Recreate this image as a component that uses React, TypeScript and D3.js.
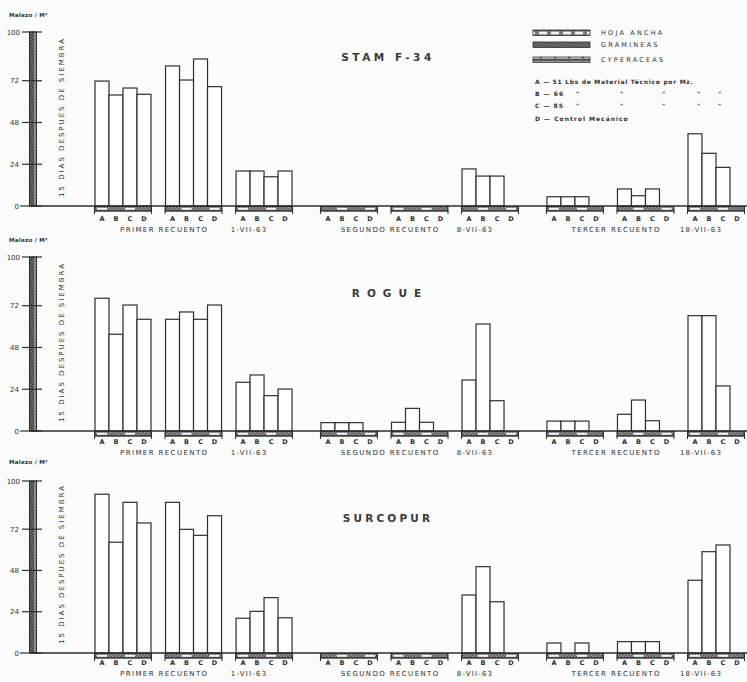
import React from 'react';
import * as d3 from 'd3';

// ---------- data ----------
const sections = ['PRIMER RECUENTO', 'SEGUNDO RECUENTO', 'TERCER RECUENTO'];
const sectionDates = ['1-VII-63', '8-VII-63', '18-VII-63'];
const groupSlots = ['1', '2', '3'];
const treatments = ['A', 'B', 'C', 'D'];
const panelTitles = ['STAM F-34', 'ROGUE', 'SURCOPUR'];
const yTicks = [0, 24, 48, 72, 100];

// malezas / m2, 9 groups (3 per recuento) x 4 treatments (A, B, C, D)
const stamF34 = [
  [71.8, 63.8, 67.8, 64.2],
  [80.5, 72.4, 84.5, 68.6],
  [20.1, 20.1, 16.8, 20.1],
  [0, 0, 0, 0],
  [0, 0, 0, 0],
  [21.3, 17.2, 17.2, 0],
  [5.3, 5.3, 5.3, 0],
  [9.8, 5.9, 9.8, 0],
  [41.5, 30.3, 22.2, 0],
];
const rogue = [
  [76.3, 55.6, 72.4, 64.2],
  [64.2, 68.4, 64.2, 72.4],
  [28.0, 32.2, 20.3, 24.1],
  [4.8, 4.8, 4.8, 0],
  [5.0, 13.0, 5.0, 0],
  [29.3, 61.5, 17.4, 0],
  [5.7, 5.7, 5.7, 0],
  [9.6, 17.8, 5.9, 0],
  [66.3, 66.3, 25.9, 0],
];
const surcopur = [
  [92.3, 64.4, 87.6, 75.6],
  [87.6, 71.9, 68.4, 79.8],
  [20.2, 24.2, 32.2, 20.5],
  [0, 0, 0, 0],
  [0, 0, 0, 0],
  [33.7, 50.2, 29.8, 0],
  [5.8, 0, 5.8, 0],
  [6.6, 6.6, 6.6, 0],
  [42.3, 58.9, 62.8, 0],
];
const panelValues = [stamF34, rogue, surcopur];

const legendItems = ['HOJA ANCHA', 'GRAMINEAS', 'CYPERACEAS'];
const doseLines = [
  'A — 51 Lbs de Material Técnico por Mz.',
  'B — 66',
  'C — 85',
  'D — Control Mecánico',
];

// ---------- layout ----------
const W = 747;
const H = 682;
const panels = [
  { zero: 206, h: 174, titleY: 61, letterY: 12, labelY: 23 },
  { zero: 431, h: 174, titleY: 297, letterY: 10, labelY: 21 },
  { zero: 653, h: 172, titleY: 522, letterY: 9, labelY: 20 },
];
const ink = '#2e2e2e';
const font = "'DejaVu Sans', sans-serif";

const xSection = d3.scaleBand<string>().domain(sections).range([95, 744]).paddingInner(0.128).paddingOuter(0);
const xGroup = d3.scaleBand<string>().domain(groupSlots).range([0, xSection.bandwidth()]).paddingInner(0.206);
const xBar = d3.scaleBand<string>().domain(treatments).range([0, xGroup.bandwidth()]);

const groupX = (g: number) => (xSection(sections[Math.floor(g / 3)]) as number) + (xGroup(groupSlots[g % 3]) as number);

function Panel({ idx }: { idx: number }) {
  const p = panels[idx];
  const y = d3.scaleLinear().domain([0, 100]).range([p.zero, p.zero - p.h]);
  const values = panelValues[idx];
  const gw = xGroup.bandwidth();
  const bw = xBar.bandwidth();
  return (
    <g>
      {/* axis unit */}
      <text x={9} y={p.zero - 189} fontSize={5.5} fontWeight="bold" fill={ink} fontFamily={font} letterSpacing={0.3}>
        Malezo / M²
      </text>
      {/* y axis bar */}
      <rect x={29.5} y={y(100)} width={7} height={p.zero - y(100)} fill="url(#axisFill)" stroke={ink} strokeWidth={1} />
      <line x1={35} x2={35} y1={y(100)} y2={p.zero} stroke="#ddd" strokeWidth={0.8} />
      {yTicks.map((t) => (
        <g key={t}>
          <line x1={t === 0 ? 20 : 22} x2={42} y1={y(t)} y2={y(t)} stroke={ink} strokeWidth={1.2} />
          <text x={t === 100 ? 20 : 19} y={y(t) + 2.5} fontSize={7} textAnchor="end" fill={ink} fontFamily={font}>
            {t}
          </text>
        </g>
      ))}
      {/* rotated note */}
      <text
        transform={`translate(64,${p.zero - 88}) rotate(-90)`}
        fontSize={7}
        textAnchor="middle"
        fill={ink}
        fontFamily={font}
        textLength={158}
        lengthAdjust="spacing"
      >
        15 DIAS DESPUES DE SIEMBRA
      </text>
      {/* title */}
      <text
        x={idx === 1 ? 390 : 388}
        y={p.titleY}
        fontSize={10.5}
        fontWeight="bold"
        textAnchor="middle"
        fill="#3a3a3a"
        fontFamily={font}
        letterSpacing={idx === 1 ? 7 : idx === 0 ? 3.5 : 3.2}
      >
        {panelTitles[idx]}
      </text>
      {/* bars */}
      {values.map((grp, g) => {
        const gx = groupX(g);
        return (
          <g key={g}>
            {grp.map((v, i) =>
              v > 0 ? (
                <rect
                  key={i}
                  x={gx + (xBar(treatments[i]) as number)}
                  y={y(v)}
                  width={bw}
                  height={p.zero - y(v)}
                  fill="white"
                  stroke={ink}
                  strokeWidth={1.2}
                />
              ) : null
            )}
            {/* strip below zero */}
            <rect x={gx} y={p.zero + 0.5} width={gw} height={4.5} fill="url(#stripFill)" stroke={ink} strokeWidth={0.8} />
            {treatments.map((t, i) =>
              (i + g) % 2 === 0 ? (
                <rect key={t} x={gx + (xBar(t) as number) + 2} y={p.zero + 1.8} width={bw - 4} height={2} fill="#f4f4f4" />
              ) : null
            )}
            <line x1={gx - 1} x2={gx + gw + 1} y1={p.zero + 5} y2={p.zero + 5} stroke={ink} strokeWidth={1} />
            <line x1={gx - 0.5} x2={gx - 0.5} y1={p.zero} y2={p.zero + 8} stroke={ink} strokeWidth={1} />
            <line x1={gx + gw + 0.5} x2={gx + gw + 0.5} y1={p.zero} y2={p.zero + 8} stroke={ink} strokeWidth={1} />
            {treatments.map((t) => (
              <text
                key={t}
                x={gx + (xBar(t) as number) + bw / 2}
                y={p.zero + p.letterY + 2.5}
                fontSize={6.5}
                fontWeight="bold"
                textAnchor="middle"
                fill={ink}
                fontFamily={font}
              >
                {t}
              </text>
            ))}
          </g>
        );
      })}
      {/* baseline */}
      <line x1={30} x2={W} y1={p.zero} y2={p.zero} stroke={ink} strokeWidth={1.5} />
      {/* section labels */}
      {sections.map((s, si) => {
        const mid = (groupX(si * 3) + gw + groupX(si * 3 + 1)) / 2 + 6;
        const dx = groupX(si * 3 + 2) + gw / 2 - 15;
        return (
          <g key={s}>
            <text x={mid} y={p.zero + p.labelY + 2.5} fontSize={7} textAnchor="middle" fill={ink} fontFamily={font} letterSpacing={1.4}>
              {s.replace(' ', '  ')}
            </text>
            <text x={dx} y={p.zero + p.labelY + 2.5} fontSize={7} textAnchor="middle" fill={ink} fontFamily={font} letterSpacing={1.2}>
              {sectionDates[si]}
            </text>
          </g>
        );
      })}
    </g>
  );
}

function Legend() {
  const sx = 533;
  const sy = [30, 42, 57];
  const fills = ['url(#leafFill)', 'url(#grassFill)', 'url(#sedgeFill)'];
  const dittoX = [576, 620, 662, 697, 718];
  const lineY = [84, 96, 108, 121];
  return (
    <g fontFamily={font} fill={ink}>
      {legendItems.map((l, i) => (
        <g key={l}>
          <rect x={sx} y={sy[i]} width={57} height={5.5} fill={fills[i]} stroke={ink} strokeWidth={0.8} />
          <text x={601} y={sy[i] + 5} fontSize={6.5} letterSpacing={2.2}>
            {l}
          </text>
        </g>
      ))}
      {doseLines.map((d, i) => (
        <g key={d}>
          <text x={535} y={lineY[i]} fontSize={6} fontWeight="bold" letterSpacing={i === 0 ? 0.7 : 1}>
            {d}
          </text>
          {(i === 1 || i === 2) &&
            dittoX.map((x) => (
              <text key={x} x={x} y={lineY[i] - 0.5} fontSize={6} fontWeight="bold">
                "
              </text>
            ))}
        </g>
      ))}
    </g>
  );
}

export default function App() {
  return (
    <svg
      width={W}
      height={H}
      viewBox={`0 0 ${W} ${H}`}
      style={{ position: 'absolute', left: 0, top: 0, background: '#fcfcfc' }}
    >
      <defs>
        <pattern id="axisFill" width={3} height={3} patternUnits="userSpaceOnUse">
          <rect width={3} height={3} fill="#6a6a6a" />
          <path d="M0,3 L3,0" stroke="#333" strokeWidth={1} />
        </pattern>
        <pattern id="stripFill" width={3} height={3} patternUnits="userSpaceOnUse">
          <rect width={3} height={3} fill="#8a8a8a" />
          <path d="M0,3 L3,0" stroke="#444" strokeWidth={0.8} />
        </pattern>
        <pattern id="leafFill" width={12} height={6} patternUnits="userSpaceOnUse">
          <rect width={12} height={6} fill="#f2f2f2" />
          <rect x={0} y={0} width={12} height={1.5} fill="#555" />
          <rect x={0} y={4.5} width={12} height={1.5} fill="#555" />
          <rect x={7} y={1} width={4} height={4} fill="#777" />
        </pattern>
        <pattern id="grassFill" width={3} height={3} patternUnits="userSpaceOnUse">
          <rect width={3} height={3} fill="#777" />
          <path d="M0,3 L3,0" stroke="#333" strokeWidth={1} />
        </pattern>
        <pattern id="sedgeFill" width={14} height={6} patternUnits="userSpaceOnUse">
          <rect width={14} height={6} fill="#eee" />
          <rect x={0} y={0} width={14} height={1.5} fill="#555" />
          <rect x={0} y={4.5} width={14} height={1.5} fill="#555" />
          <circle cx={9} cy={3} r={1.3} fill="#333" />
        </pattern>
      </defs>
      <Legend />
      {panels.map((_, i) => (
        <Panel key={i} idx={i} />
      ))}
    </svg>
  );
}
